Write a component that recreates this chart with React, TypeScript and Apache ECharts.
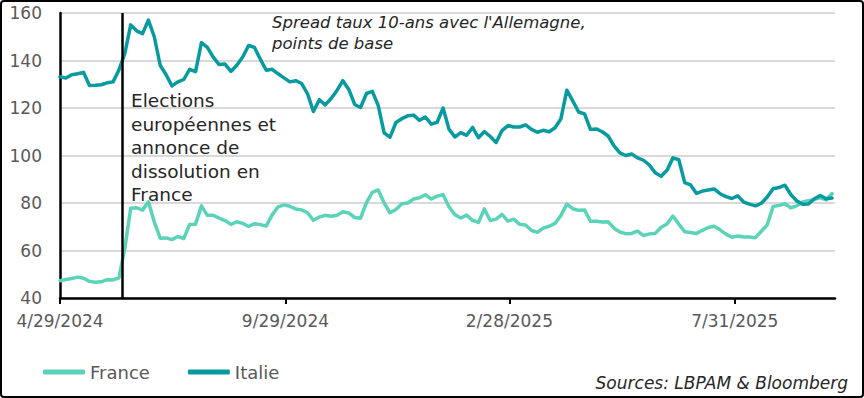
import React, { useEffect, useRef } from "react";
import * as echarts from "echarts";

// Sampled every 4 calendar days starting 4/29/2024 (day 0)
const dataStepDays = 4;
const axisMaxDay = 526;
const electionDay = 42; // 6/10/2024

const tickDays = [0, 153, 305, 458];
const tickLabels = ["4/29/2024", "9/29/2024", "2/28/2025", "7/31/2025"];

const yTicks = [40, 60, 80, 100, 120, 140, 160];

const franceValues = [
  47.3, 47.8, 48.2, 48.8, 48.3, 47.0, 46.6, 46.8, 47.7, 47.6,
  48.5, 61.0, 77.8, 78.0, 77.0, 80.5, 72.0, 65.2, 65.3, 64.6,
  65.9, 65.0, 71.0, 71.1, 78.8, 74.8, 74.8, 73.6, 72.6, 71.0,
  72.1, 71.4, 70.1, 71.3, 70.9, 70.3, 75.0, 78.4, 79.2, 78.6,
  77.5, 77.1, 75.9, 72.7, 74.1, 74.8, 74.4, 74.8, 76.3, 75.8,
  73.9, 73.6, 80.2, 84.5, 85.5, 80.0, 75.9, 77.3, 79.7, 80.0,
  81.7, 82.2, 83.5, 81.7, 82.9, 83.5, 78.4, 75.1, 73.7, 74.9,
  72.7, 71.8, 77.5, 72.6, 73.2, 75.2, 72.4, 73.2, 71.0, 70.7,
  68.4, 67.7, 69.4, 70.2, 71.4, 74.8, 79.5, 77.6, 76.9, 77.1,
  72.3, 72.3, 72.0, 72.1, 69.4, 67.8, 67.1, 67.2, 68.2, 66.3,
  67.0, 67.2, 69.8, 71.2, 74.5, 71.1, 67.9, 67.6, 67.2, 68.5,
  69.7, 70.2, 68.7, 66.9, 65.6, 66.1, 65.7, 65.7, 65.4, 68.1,
  70.8, 78.5, 79.0, 79.7, 78.0, 78.8, 80.4, 81.0, 81.5, 82.2,
  81.3, 84.0,
];

const italyValues = [
  133.1, 132.6, 134.0, 134.4, 135.0, 129.5, 129.6, 129.8, 130.6, 131.0,
  136.0, 143.0, 155.0, 152.5, 151.3, 157.0, 150.0, 138.0, 134.0, 129.3,
  131.0, 132.0, 136.3, 135.3, 147.5, 145.5, 141.4, 138.3, 138.5, 135.4,
  138.0, 141.5, 146.3, 145.5, 140.5, 135.9, 136.3, 134.4, 132.7, 131.0,
  131.5, 130.3, 126.0, 118.5, 123.5, 121.3, 124.0, 127.4, 131.5, 127.8,
  121.5, 120.2, 126.1, 127.0, 121.0, 109.5, 107.7, 113.9, 115.5, 116.7,
  117.0, 114.8, 116.2, 113.2, 114.0, 120.0, 111.1, 107.8, 109.6, 108.5,
  111.8, 107.5, 110.1, 108.0, 105.5, 110.5, 112.6, 112.0, 112.0, 112.9,
  111.0, 109.8, 110.6, 110.0, 111.7, 115.5, 127.5, 123.0, 118.3, 117.5,
  111.0, 111.2, 110.0, 108.2, 104.1, 101.1, 100.0, 100.6, 99.0, 98.0,
  96.0, 92.7, 91.3, 93.8, 99.0, 98.2, 88.6, 87.6, 84.0, 85.0,
  85.5, 85.9, 83.9, 82.7, 81.9, 83.0, 80.4, 79.5, 78.8, 79.9,
  82.5, 86.0, 86.5, 87.5, 83.6, 80.9, 79.5, 79.6, 81.8, 83.2,
  81.8, 82.1,
];

const titleText = "Spread taux 10-ans avec l'Allemagne,\npoints de base";
const annotationText = "Elections\neuropéennes et\nannonce de\ndissolution en\nFrance";
const sourceText = "Sources: LBPAM & Bloomberg";

const FONT = "'DejaVu Sans', sans-serif";
const FRANCE_COLOR = "#5BD3B8";
const ITALY_COLOR = "#079A9E";
const LABEL_COLOR = "#595959";

export default function App() {
  const ref = useRef<HTMLDivElement>(null);

  useEffect(() => {
    document.body.style.margin = "0";
    if (!ref.current) return;
    const chart = echarts.init(ref.current, undefined, { renderer: "svg" });

    const toPairs = (vals: number[]) => vals.map((v, i) => [i * dataStepDays, v]);

    chart.setOption({
      animation: false,
      backgroundColor: "#ffffff",
      grid: { left: 60, right: 29, top: 13, bottom: 100, containLabel: false },
      xAxis: {
        type: "value",
        min: 0,
        max: axisMaxDay,
        axisLine: { show: true, lineStyle: { color: "#000", width: 2.5 } },
        axisTick: {
          show: true,
          customValues: tickDays,
          length: 6,
          lineStyle: { color: "#000", width: 2 },
        },
        axisLabel: {
          customValues: tickDays,
          formatter: (v: number) => {
            const k = tickDays.indexOf(v);
            return k >= 0 ? tickLabels[k] : "";
          },
          color: LABEL_COLOR,
          fontFamily: FONT,
          fontSize: 17,
          margin: 14,
        },
        splitLine: { show: false },
      },
      yAxis: {
        type: "value",
        min: yTicks[0],
        max: yTicks[yTicks.length - 1],
        interval: 20,
        axisLine: { show: true, lineStyle: { color: "#000", width: 2.5 } },
        axisTick: { show: false },
        axisLabel: {
          color: LABEL_COLOR,
          fontFamily: FONT,
          fontSize: 17,
          margin: 18,
        },
        splitLine: { show: true, lineStyle: { color: "#D9D9D9", width: 2 } },
      },
      legend: {
        left: 38,
        top: 358,
        itemWidth: 42,
        itemHeight: 5,
        itemGap: 38,
        icon: "roundRect",
        textStyle: { color: LABEL_COLOR, fontFamily: FONT, fontSize: 18 },
        data: ["France", "Italie"],
      },
      series: [
        {
          name: "France",
          type: "line",
          data: toPairs(franceValues),
          symbol: "none",
          showSymbol: false,
          lineStyle: { color: FRANCE_COLOR, width: 3.5, cap: "round", join: "round" },
          itemStyle: { color: FRANCE_COLOR },
          z: 3,
          markLine: {
            silent: true,
            symbol: "none",
            label: { show: false },
            lineStyle: { color: "#000", width: 2.5, type: "solid" },
            data: [{ xAxis: electionDay }],
          },
        },
        {
          name: "Italie",
          type: "line",
          data: toPairs(italyValues),
          symbol: "none",
          showSymbol: false,
          lineStyle: { color: ITALY_COLOR, width: 3.5, cap: "round", join: "round" },
          itemStyle: { color: ITALY_COLOR },
          z: 4,
        },
      ],
      graphic: [
        {
          type: "rect",
          shape: { x: 1, y: 1, width: 862, height: 396, r: 3 },
          style: { fill: "none", stroke: "#000", lineWidth: 2 },
          silent: true,
        },
        {
          type: "text",
          x: 272,
          y: 12,
          style: {
            text: titleText,
            fill: "#262626",
            font: `italic 16.5px ${FONT}`,
            lineHeight: 21,
          },
          z: 10,
        },
        {
          type: "text",
          x: 131,
          y: 89,
          style: {
            text: annotationText,
            fill: "#262626",
            font: `18.5px ${FONT}`,
            lineHeight: 23.5,
          },
          z: 10,
        },
        {
          type: "text",
          right: 16,
          top: 374,
          style: {
            text: sourceText,
            fill: "#262626",
            font: `italic 17px ${FONT}`,
          },
          z: 10,
        },
      ],
    });

    return () => chart.dispose();
  }, []);

  return <div ref={ref} style={{ width: 864, height: 398 }} />;
}
